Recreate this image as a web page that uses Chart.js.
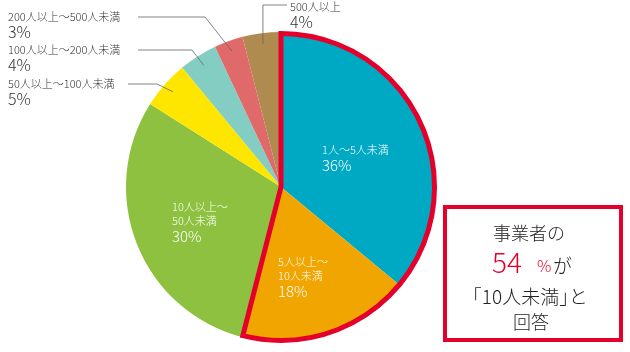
<!DOCTYPE html>
<html>
<head>
<meta charset="utf-8">
<script src="https://cdn.jsdelivr.net/npm/chart.js@4"></script>
<style>
  body { margin: 0; background: #fff; }
</style>
</head>
<body>
<canvas id="grafico" width="630" height="352"></canvas>
<script>
var categorias = ['1人～5人未満', '5人以上～10人未満', '10人以上～50人未満', '50人以上～100人未満', '100人以上～200人未満', '200人以上～500人未満', '500人以上'];
var porcentagens = [36, 18, 30, 5, 4, 3, 4];
var cores = ['#00a9c3', '#f1a500', '#8dc13f', '#ffe600', '#84cdc2', '#e06a6a', '#b08b50'];

// linhas do rótulo de cada fatia
var linhasRotulo = [['1人～5人未満'], ['5人以上～', '10人未満'], ['10人以上～', '50人未満'], ['50人以上～100人未満'], ['100人以上～200人未満'], ['200人以上～500人未満'], ['500人以上']];

var FONTE = "'Noto Sans CJK JP', 'Noto Sans', sans-serif";
var VERMELHO = '#e4002b';

// posição dos rótulos (x, y da primeira linha) e da linha guia
var posRotulo = [
    { x: 322, y: 150, dentro: true },
    { x: 278, y: 262, dentro: true },
    { x: 172, y: 207, dentro: true },
    { x: 8, y: 84, cotovelo: [157, 84], fim: 128 },
    { x: 8, y: 50, cotovelo: [192, 50], fim: 138 },
    { x: 8, y: 17, cotovelo: [205, 17], fim: 138 },
    { x: 290, y: 7, vertical: true, topo: 5, fim: 287 }
];

const contornoVermelho = {
    id: 'contorno',
    afterDatasetsDraw(chart) {
        const ctx = chart.ctx;
        const arcos = chart.getDatasetMeta(0).data;
        const a = arcos[0], b = arcos[1];
        ctx.save();
        ctx.strokeStyle = VERMELHO;
        ctx.lineWidth = 5;
        ctx.lineJoin = 'miter';
        ctx.beginPath();
        ctx.moveTo(a.x, a.y);
        ctx.arc(a.x, a.y, a.outerRadius - 1.5, a.startAngle, b.endAngle);
        ctx.closePath();
        ctx.stroke();
        ctx.restore();
    }
};

function textoColchetes(ctx, cx, y, tam) {
    // 「10人未満」と com colchetes de meia largura
    ctx.font = '300 ' + tam + 'px ' + FONTE;
    const meio = '10人未満';
    const w = ctx.measureText(meio).width;
    const total = tam * 0.5 + w + tam * 0.5 + tam;
    let x = cx - total / 2;
    ctx.textAlign = 'left';
    ctx.fillText('「', x - tam * 0.5, y);
    x += tam * 0.5;
    ctx.fillText(meio, x, y);
    x += w;
    ctx.fillText('」', x, y);
    x += tam * 0.5;
    ctx.fillText('と', x, y);
}

const rotulos = {
    id: 'rotulos',
    afterDraw(chart) {
        const ctx = chart.ctx;
        const arcos = chart.getDatasetMeta(0).data;
        ctx.save();
        ctx.textBaseline = 'middle';
        ctx.textAlign = 'left';
        for (let i = 0; i < arcos.length; i++) {
            const arco = arcos[i];
            const p = posRotulo[i];
            const cor = p.dentro ? '#ffffff' : '#333333';
            if (!p.dentro) {
                const meio = (arco.startAngle + arco.endAngle) / 2;
                const r = arco.outerRadius * 0.93;
                const px = arco.x + Math.cos(meio) * r;
                const py = arco.y + Math.sin(meio) * r;
                ctx.strokeStyle = '#666666';
                ctx.lineWidth = 0.8;
                ctx.beginPath();
                ctx.moveTo(px, py);
                if (p.vertical) {
                    ctx.lineTo(px, p.topo);
                    ctx.lineTo(p.fim, p.topo);
                } else {
                    ctx.lineTo(p.cotovelo[0], p.cotovelo[1]);
                    ctx.lineTo(p.fim, p.cotovelo[1]);
                }
                ctx.stroke();
            }
            ctx.fillStyle = cor;
            let y = p.y;
            ctx.font = '300 11px ' + FONTE;
            for (let l = 0; l < linhasRotulo[i].length; l++) {
                ctx.fillText(linhasRotulo[i][l], p.x, y);
                y += 14;
            }
            ctx.font = '300 ' + (p.dentro ? 15 : 16) + 'px ' + FONTE;
            ctx.fillText(porcentagens[i] + '%', p.x, y + 1);
        }
        ctx.restore();

        // caixa de destaque
        ctx.save();
        ctx.strokeStyle = VERMELHO;
        ctx.lineWidth = 4;
        ctx.strokeRect(445, 207, 176, 133);
        ctx.fillStyle = '#222222';
        ctx.textAlign = 'center';
        ctx.textBaseline = 'middle';
        ctx.font = '300 18px ' + FONTE;
        ctx.fillText('事業者の', 529, 233);
        ctx.fillText('回答', 531, 322);
        textoColchetes(ctx, 530, 297, 19);
        ctx.textAlign = 'left';
        ctx.textBaseline = 'alphabetic';
        ctx.fillStyle = VERMELHO;
        ctx.font = '300 28px ' + FONTE;
        ctx.fillText(String(porcentagens[0] + porcentagens[1]), 492, 273);
        ctx.font = '300 16px ' + FONTE;
        ctx.fillText('%', 537, 272);
        ctx.fillStyle = '#222222';
        ctx.font = '300 19px ' + FONTE;
        ctx.fillText('が', 553, 273);
        ctx.restore();
    }
};

const data = {
    labels: categorias,
    datasets: [{
        data: porcentagens,
        backgroundColor: cores,
        borderWidth: 0
    }]
};

const config = {
    type: 'pie',
    data: data,
    options: {
        responsive: false,
        animation: false,
        layout: { padding: { left: 126, right: 194, top: 32, bottom: 10 } },
        plugins: {
            legend: { display: false },
            tooltip: { enabled: false }
        }
    },
    plugins: [contornoVermelho, rotulos]
};

const grafico = new Chart(document.getElementById('grafico'), config);
</script>
</body>
</html>
